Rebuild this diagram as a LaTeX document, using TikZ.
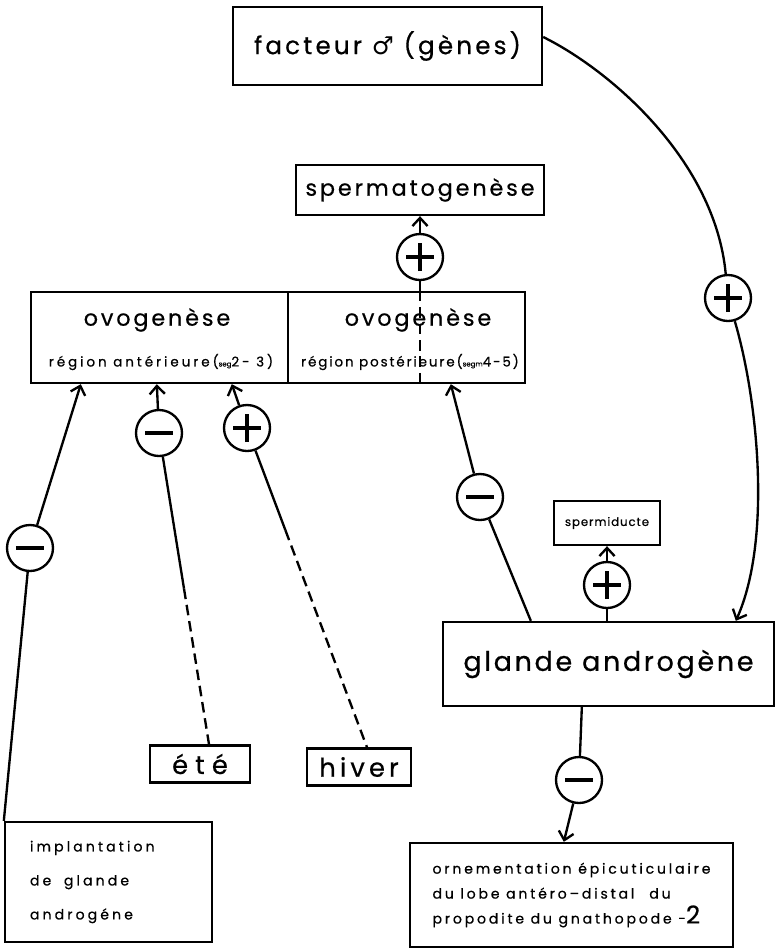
\documentclass[tikz,border=0pt]{standalone}
\usepackage{fontspec}
\setmainfont{Poppins}[FakeBold=0.6]
\newfontfamily\symfont{DejaVu Sans}
\usetikzlibrary{arrows.meta}
\usetikzlibrary{calc}

\newcommand{\pxl}[1]{#1*0.03cm}
\newcommand{\bigtxt}{\fontsize{19}{22}\selectfont\addfontfeature{LetterSpace=13}}
\newcommand{\subtxt}{\fontsize{11.5}{13}\selectfont\addfontfeature{LetterSpace=14}}
\newcommand{\segtxt}{\fontsize{6}{6}\selectfont\addfontfeature{LetterSpace=0}}

\begin{document}
\begin{tikzpicture}[x=0.03cm, y=-0.03cm, line width=2pt,
    box/.style={draw, inner sep=0pt, align=center},
    sign/.style={draw, circle, inner sep=0pt, minimum size=\pxl{46}},
    possign/.style={sign, path picture={
        \draw[line width=2.6pt] ([xshift=-0.42cm]path picture bounding box.center) -- ([xshift=0.42cm]path picture bounding box.center);
        \draw[line width=2.6pt] ([yshift=-0.42cm]path picture bounding box.center) -- ([yshift=0.42cm]path picture bounding box.center);}},
    negsign/.style={sign, path picture={
        \draw[line width=3.2pt] ([xshift=-0.42cm]path picture bounding box.center) -- ([xshift=0.42cm]path picture bounding box.center);}},
    dashline/.style={dash pattern=on 9pt off 5pt},
    >={Straight Barb[length=7pt, width=13pt]}]
  \useasboundingbox (0,0) rectangle (775,949);

  % boites
  \node[box, minimum width=\pxl{309}, minimum height=\pxl{78}] (facteur) at (387.5,46)
    {\fontsize{21}{24}\selectfont\addfontfeature{LetterSpace=13}facteur {\symfont ♂} (gènes)};
  \node[box, minimum width=\pxl{248}, minimum height=\pxl{50}] (sperma) at (420,190)
    {\bigtxt spermatogenèse};
  \node[box, minimum width=\pxl{257}, minimum height=\pxl{91}] (ovoant) at (159.5,337.5) {};
  \node[box, minimum width=\pxl{237}, minimum height=\pxl{91}] (ovopost) at (406.5,337.5) {};
  \node[font=\bigtxt] (ovoant-t) at (157,320) {ovogenèse};
  \node[font=\subtxt\addfontfeature{LetterSpace=22}] (ovoant-s) at (161,362)
    {région antérieure({\segtxt seg}2- 3)};
  \node[font=\bigtxt] (ovopost-t) at (418,320) {ovogenèse};
  \node[font=\subtxt] (ovopost-s) at (410,362) {région postérieure({\segtxt segm}4-5)};
  \node[box, minimum width=\pxl{106}, minimum height=\pxl{44}] (sdu) at (607,523)
    {\fontsize{10}{11}\selectfont\addfontfeature{LetterSpace=8}spermiducte};
  \node[box, minimum width=\pxl{331}, minimum height=\pxl{84}] (glande) at (608.5,664)
    {\fontsize{23}{26}\selectfont\addfontfeature{LetterSpace=10}glande androgène};
  \node[box, minimum width=\pxl{100}, minimum height=\pxl{37}] (ete) at (200,764)
    {\fontsize{22}{24}\selectfont\addfontfeature{LetterSpace=28}été};
  \node[box, minimum width=\pxl{104}, minimum height=\pxl{37}] (hiver) at (359,767)
    {\fontsize{22}{24}\selectfont\addfontfeature{LetterSpace=16}hiver};
  \node[box, minimum width=\pxl{207}, minimum height=\pxl{120}, align=left,
        text width=\pxl{157}, inner xsep=\pxl{25},
        font={\fontsize{12}{29}\selectfont\addfontfeature{LetterSpace=22}}] (implant) at (108.5,882)
    {implantation\\ de\hspace{0.9em}glande\\ androgéne};
  \node[box, minimum width=\pxl{323}, minimum height=\pxl{104}, align=left,
        font={\fontsize{12}{21.3}\selectfont\addfontfeature{LetterSpace=20}}] (orne) at (571.5,895)
    {ornementation épicuticulaire\\ du lobe antéro--distal\hspace{0.6em} du\\
     propodite du gnathopode -{\fontsize{21}{21}\selectfont\addfontfeature{LetterSpace=0}2}};

  % signes
  \node[possign] (s1) at (420,257) {};
  \node[negsign] (s2) at (30,548) {};
  \node[negsign] (s3) at (159,433) {};
  \node[possign] (s4) at (247,428) {};
  \node[negsign] (s5) at (480,497) {};
  \node[possign] (s6) at (607,585) {};
  \node[possign] (s7) at (728,298) {};
  \node[negsign] (s8) at (579,780) {};

  % points d'attache
  \coordinate (a2) at ($(ovoant.south west)+(51,0)$);
  \coordinate (a3) at ($(ovoant.south west)+(127,0)$);
  \coordinate (a4) at ($(ovoant.south west)+(202,0)$);
  \coordinate (a5) at ($(ovopost.south west)+(164,0)$);
  \coordinate (g5) at ($(glande.north west)+(89,0)$);
  \coordinate (g7) at ($(glande.north west)+(294,0)$);
  \coordinate (g8) at ($(glande.south west)+(140,0)$);
  \coordinate (o8) at ($(orne.north west)+(155,0)$);
  \coordinate (e3) at ($(ete.north)+(9,0)$);
  \coordinate (h4) at ($(hiver.north)+(8,0)$);

  % liaisons
  \draw[->] (s1) -- (sperma.south -| s1);
  \draw (s1) -- (ovopost.north -| s1);
  \draw[dashline] (ovopost.north -| s1) -- (ovopost.south -| s1);
  \draw (implant.north west) -- (s2);
  \draw[->] (s2) -- (a2);
  \draw[->] (s3) -- (a3);
  \draw (s3) -- ($(s3)!0.5!(e3)$);
  \draw[dashline] ($(s3)!0.5!(e3)$) -- (e3);
  \draw[->] (s4) -- (a4);
  \draw (s4) -- ($(s4)!0.32!(h4)$);
  \draw[dashline] ($(s4)!0.32!(h4)$) -- (h4);
  \draw (g5) -- (s5);
  \draw[->] (s5) -- (a5);
  \draw (glande.north -| s6) -- (s6);
  \draw[->] (s6) -- (sdu.south -| s6);
  \draw (facteur.east |- 0,37) .. controls (610,70) and (715,160) .. (s7);
  \draw[->] (s7) .. controls (758,400) and (772,540) .. (g7);
  \draw (g8) -- (s8);
  \draw[->] (s8) -- (o8);
\end{tikzpicture}
\end{document}
